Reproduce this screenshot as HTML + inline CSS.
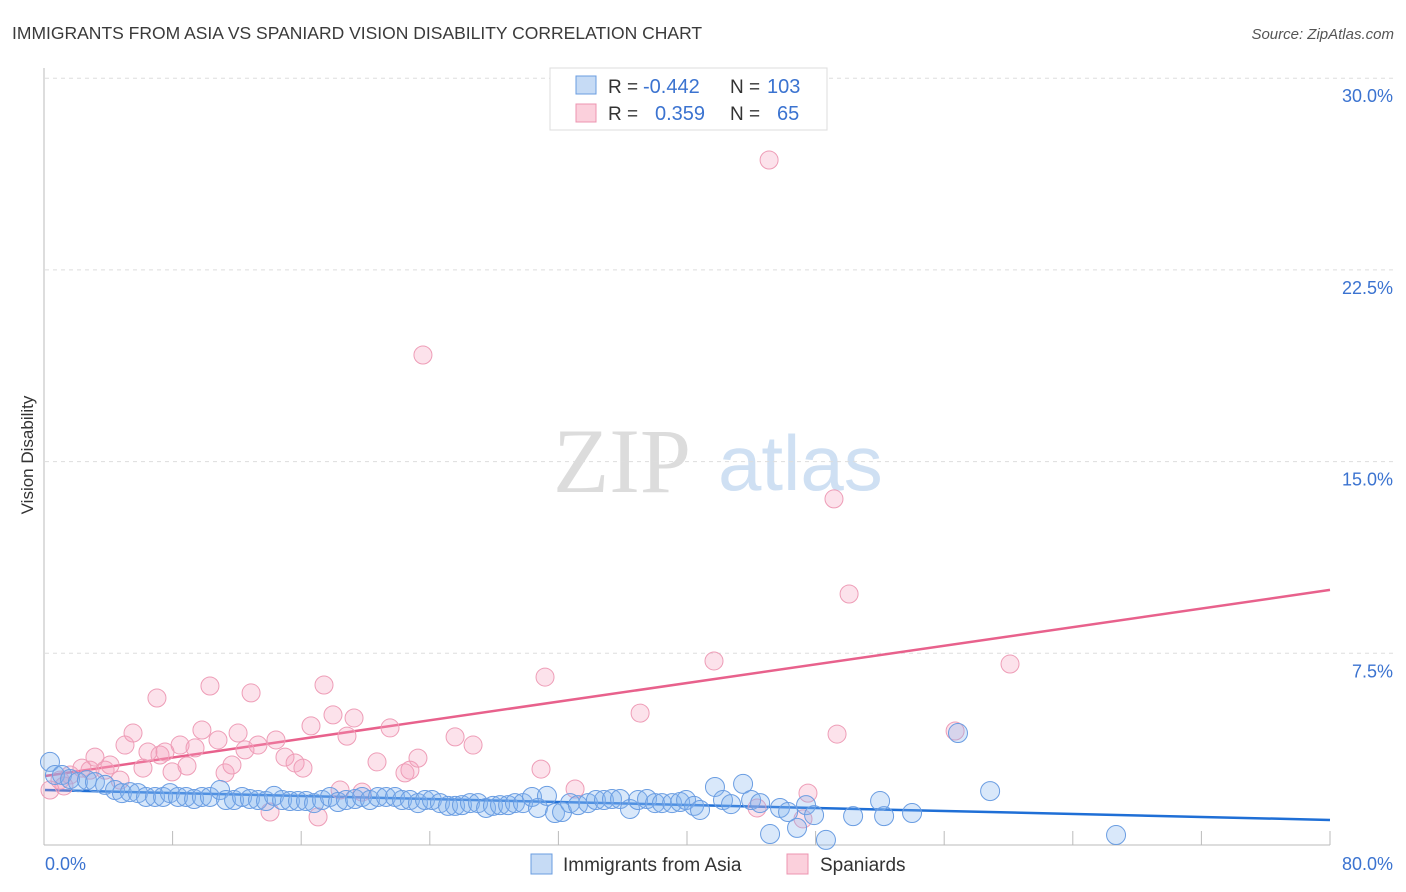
<!DOCTYPE html>
<html><head><meta charset="utf-8"><style>
body{margin:0;background:#fff;font-family:"Liberation Sans",sans-serif;}
svg{display:block}
</style></head><body>
<svg id="chart" width="1406" height="892" xmlns="http://www.w3.org/2000/svg">
<text x="12" y="39" font-size="17.5" fill="#3a3a3a" font-family="Liberation Sans, sans-serif">IMMIGRANTS FROM ASIA VS SPANIARD VISION DISABILITY CORRELATION CHART</text>
<text x="1394" y="39" font-size="15" fill="#555" text-anchor="end" font-style="italic">Source: ZipAtlas.com</text>
<g>
<text x="553" y="492" font-size="92" fill="#dcdcdc" font-family="Liberation Serif, serif">ZIP</text>
<text x="718" y="490" font-size="78" fill="#cfe0f3" font-family="Liberation Sans, sans-serif">atlas</text>
</g>
<g id="grid"></g>
<g id="axes"></g>
<g id="trend"></g>
<g id="pts"></g>
<text transform="translate(33,455) rotate(-90)" text-anchor="middle" font-size="17" fill="#333">Vision Disability</text>
<g>
<rect x="550" y="68" width="277" height="62" fill="#fff" stroke="#ddd"/>
<rect x="576" y="76" width="20" height="18" fill="#c6dbf5" stroke="#6a9de0"/>
<rect x="576" y="104" width="20" height="18" fill="#fbd0dc" stroke="#ec94b0"/>
<text x="608" y="93" font-size="19" fill="#333">R =</text>
<text x="643" y="93" font-size="20" fill="#3b73d0">-0.442</text>
<text x="730" y="93" font-size="19" fill="#333">N =</text>
<text x="767" y="93" font-size="20" fill="#3b73d0">103</text>
<text x="608" y="120" font-size="19" fill="#333">R =</text>
<text x="655" y="120" font-size="20" fill="#3b73d0">0.359</text>
<text x="730" y="120" font-size="19" fill="#333">N =</text>
<text x="777" y="120" font-size="20" fill="#3b73d0">65</text>
</g>
<g>
<rect x="531" y="854" width="21" height="20" fill="#c6dbf5" stroke="#6a9de0"/>
<text x="563" y="871" font-size="19" fill="#333">Immigrants from Asia</text>
<rect x="787" y="854" width="21" height="20" fill="#fbd0dc" stroke="#ec94b0"/>
<text x="820" y="871" font-size="19" fill="#333">Spaniards</text>
</g>
</svg>
<script>
const yTicks=[7.5,15,22.5,30];
const yTickLabels=["7.5%","15.0%","22.5%","30.0%"];
const xTickLabels=["0.0%","80.0%"];
const blueX=[0.31,0.62,1.06,1.56,2.05,2.61,3.11,3.74,4.36,4.79,5.29,5.79,6.29,6.85,7.35,7.78,8.28,8.78,9.28,9.77,10.27,10.90,11.27,11.77,12.27,12.76,13.26,13.76,14.26,14.76,15.25,15.75,16.25,16.75,17.25,17.74,18.24,18.74,19.30,19.74,20.23,20.73,21.23,21.79,22.23,22.72,23.22,23.66,24.09,24.59,25.09,25.53,25.96,26.46,26.96,27.46,27.89,28.33,28.83,29.26,29.76,30.32,30.69,31.25,31.75,32.19,32.69,33.18,33.81,34.30,34.80,35.30,35.80,36.42,36.92,37.48,37.98,38.41,39.04,39.54,39.91,40.41,40.78,41.71,42.21,42.71,43.46,43.96,44.52,45.14,45.76,46.26,46.82,47.38,47.88,48.62,50.31,51.99,52.24,53.98,58.84,66.68,56.84];
const blueY=[3.25,2.74,2.74,2.58,2.46,2.54,2.46,2.35,2.15,2.03,2.07,2.03,1.88,1.88,1.88,2.03,1.88,1.88,1.80,1.88,1.88,2.15,1.76,1.76,1.88,1.80,1.76,1.72,1.92,1.76,1.72,1.72,1.72,1.64,1.76,1.88,1.68,1.76,1.80,1.88,1.76,1.88,1.88,1.88,1.76,1.76,1.64,1.76,1.76,1.64,1.53,1.53,1.56,1.64,1.64,1.45,1.53,1.56,1.56,1.64,1.64,1.88,1.45,1.92,1.25,1.29,1.64,1.56,1.64,1.76,1.76,1.80,1.80,1.41,1.76,1.80,1.64,1.64,1.64,1.68,1.76,1.53,1.37,2.27,1.76,1.60,2.39,1.76,1.64,0.43,1.45,1.29,0.67,1.56,1.17,0.20,1.13,1.72,1.13,1.25,2.11,0.39,4.38];
const pinkX=[0.31,0.93,1.56,2.80,3.11,3.74,4.05,4.67,4.98,5.48,6.10,6.41,6.97,7.16,7.47,7.91,8.41,8.84,9.34,9.77,10.27,10.77,11.21,11.64,12.02,12.45,12.83,13.26,14.01,14.38,14.94,15.57,16.06,16.56,17.00,17.37,17.93,18.37,18.80,19.24,19.74,20.67,21.48,22.41,22.72,23.22,23.53,25.53,26.65,30.88,31.13,33.00,37.05,41.65,44.33,45.08,47.50,47.19,49.12,49.31,50.06,56.66,60.08,2.30,1.18];
const pinkY=[2.15,2.54,2.74,2.93,3.44,2.93,3.13,2.54,3.91,4.38,3.01,3.64,5.75,3.52,3.64,2.86,3.91,3.09,3.80,4.50,6.22,4.11,2.82,3.13,4.38,3.72,5.95,3.91,1.29,4.11,3.44,3.21,3.01,4.66,1.10,6.26,5.09,2.15,4.26,4.97,2.07,3.25,4.58,2.82,2.93,3.40,19.17,4.23,3.91,2.97,6.57,2.19,5.16,7.20,1.45,26.80,2.03,1.02,13.54,4.34,9.82,4.46,7.08,3.01,2.31];
const blueTrend=[2.15,0.98];
const pinkTrend=[2.70,9.98];
const trendX=[0,80];
const X0=45,X1=1330,Y0=845,PPU=191.7/7.5;
const sx=v=>X0+v/80*(X1-X0);
const sy=v=>Y0-v*PPU;
const NS="http://www.w3.org/2000/svg";
function mk(tag,attrs,parent){const e=document.createElementNS(NS,tag);for(const k in attrs)e.setAttribute(k,attrs[k]);parent.appendChild(e);return e;}
const grid=document.getElementById('grid'),axes=document.getElementById('axes');
yTicks.forEach((t,i)=>{
  const l=mk('line',{x1:45,x2:1393,y1:sy(t),y2:sy(t),stroke:'#ddd','stroke-dasharray':'4,4'},grid);
  
  
  const tx=mk('text',{x:1393,y:sy(t)+24,'text-anchor':'end','font-size':18,fill:'#3b73d0'},axes);
  tx.textContent=yTickLabels[i];
  
  
});
const ya=mk('line',{x1:44,x2:44,y1:68,y2:845,stroke:'#bbb'},axes);


const xa=mk('line',{x1:44,x2:1330,y1:845,y2:845,stroke:'#bbb'},axes);


for(let i=1;i<=10;i++){
  const px=44+i*128.6;
  const tk=mk('line',{x1:px,x2:px,y1:831,y2:845,stroke:'#bbb'},axes);
  
  
}
const xl0=mk('text',{x:45,y:870,'font-size':18,fill:'#3b73d0'},axes);
xl0.textContent=xTickLabels[0];


const xl1=mk('text',{x:1393,y:870,'font-size':18,fill:'#3b73d0','text-anchor':'end'},axes);
xl1.textContent=xTickLabels[1];


const pts=document.getElementById('pts');
pinkX.forEach((x,i)=>{
  const c=mk('circle',{cx:sx(x),cy:sy(pinkY[i]),r:9,fill:'rgba(244,160,188,0.3)',stroke:'#ee9db7','stroke-width':1},pts);
  
  
});
blueX.forEach((x,i)=>{
  const c=mk('circle',{cx:sx(x),cy:sy(blueY[i]),r:9.5,fill:'rgba(130,178,238,0.3)',stroke:'#6a9de2','stroke-width':1},pts);
  
  
});
const tr=document.getElementById('trend');
const pl=mk('line',{x1:sx(trendX[0]),y1:sy(pinkTrend[0]),x2:sx(trendX[1]),y2:sy(pinkTrend[1]),stroke:'#e8618c','stroke-width':2.5},tr);


const bl=mk('line',{x1:sx(trendX[0]),y1:sy(blueTrend[0]),x2:sx(trendX[1]),y2:sy(blueTrend[1]),stroke:'#1f6fd6','stroke-width':2.5},tr);


</script>
</body></html>
